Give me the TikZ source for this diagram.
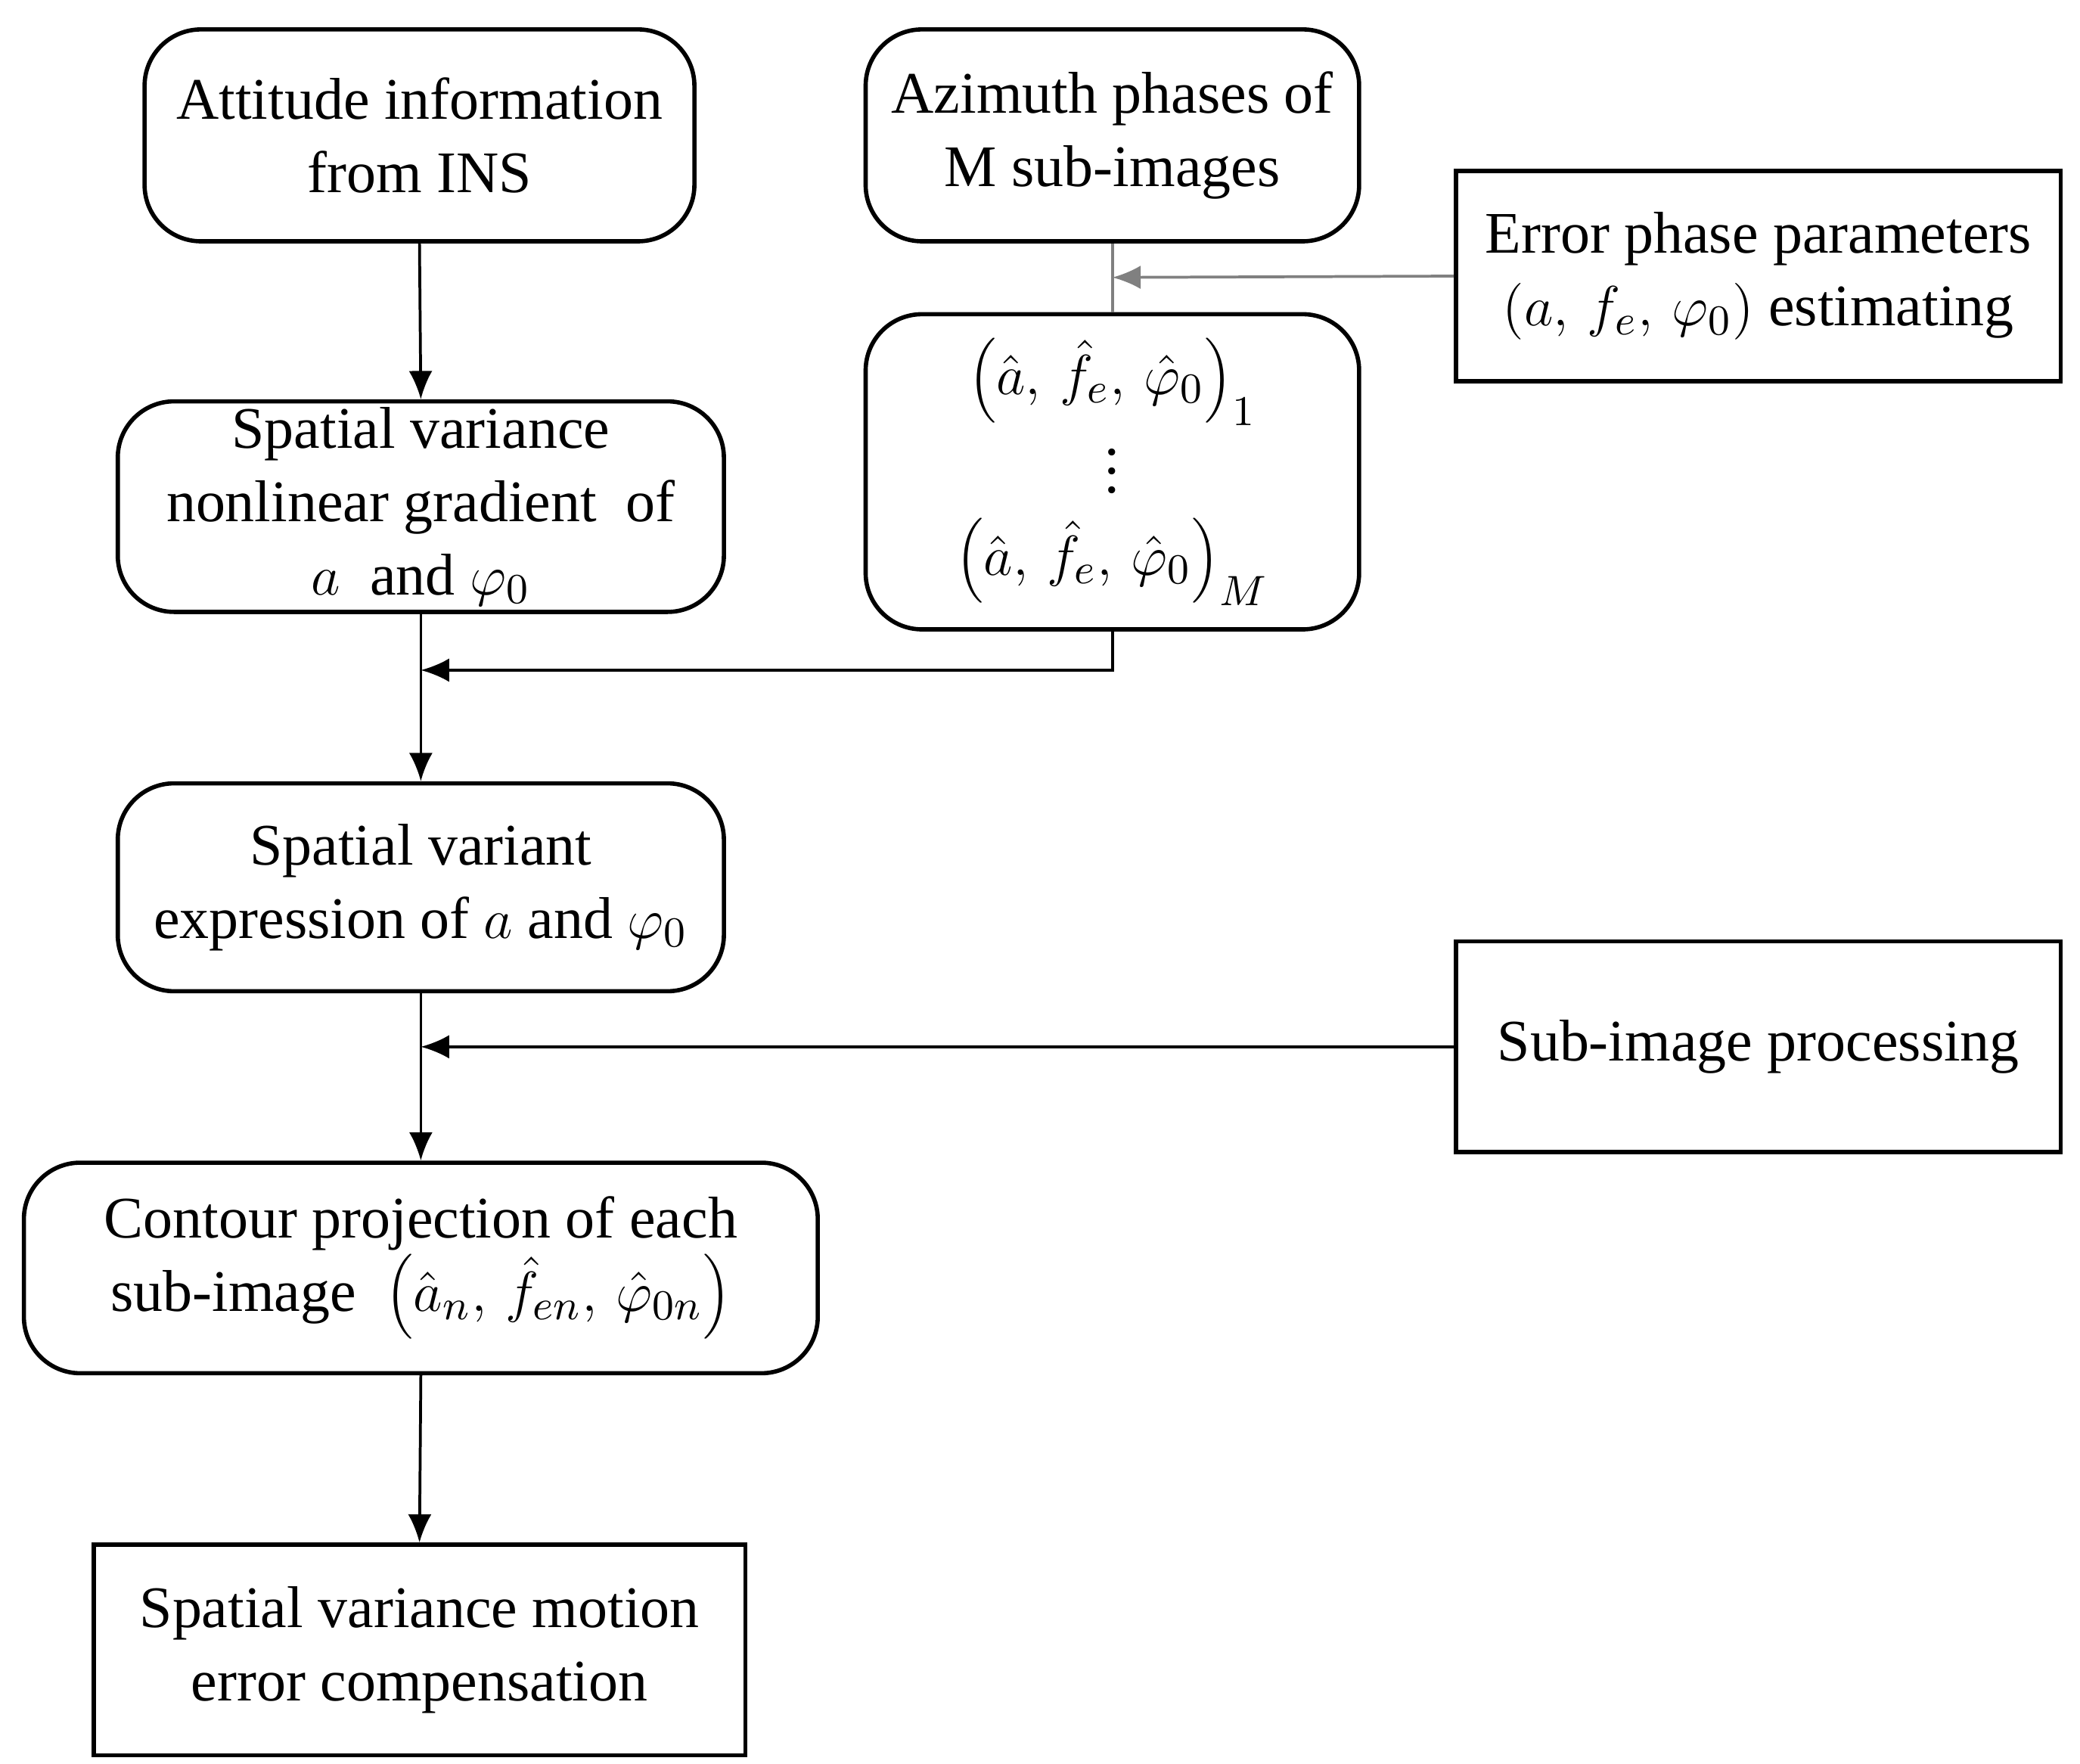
\documentclass[tikz,border=0pt]{standalone}
\usepackage{fontspec}
\setmainfont{Liberation Serif}
\usetikzlibrary{arrows.meta}
\begin{document}
\begin{tikzpicture}[x=0.01cm,y=-0.01cm,
  every node/.style={font=\fontsize{12.5}{15.5}\selectfont, align=center, inner sep=0pt},
  rbox/.style={draw, line width=0.9pt, rounded corners=0.42cm},
  sbox/.style={draw, line width=0.9pt},
  ar/.style={line width=0.6pt, -{Latex[length=6pt,width=5pt]}},
  ln/.style={line width=0.6pt}]
\useasboundingbox (0,0) rectangle (1552,1316);
\node[rbox, minimum width=4.10cm, minimum height=1.58cm] (a) at (313,101) {Attitude information\\from INS};
\node[rbox, minimum width=3.68cm, minimum height=1.58cm] (b) at (830,101) {Azimuth phases of\\M sub-images};
\node[sbox, minimum width=4.51cm, minimum height=1.57cm] (c) at (1312,206) {Error phase parameters\\$(a,\,f_e,\,\varphi_0)$ estimating};
\node[rbox, minimum width=4.52cm, minimum height=1.57cm] (d) at (314,378) {Spatial variance\\nonlinear gradient\ \ of\\$a$\ \ and $\varphi_0$};
\node[rbox, minimum width=3.68cm, minimum height=2.35cm] (e) at (830,352) {$\left(\hat a,\,\hat f_e,\,\hat\varphi_0\right)_1$\\[-2pt]$\vdots$\\[2pt]$\left(\hat a,\,\hat f_e,\,\hat\varphi_0\right)_M$};
\node[rbox, minimum width=4.52cm, minimum height=1.55cm] (f) at (314,662) {Spatial variant\\expression of $a$ and $\varphi_0$};
\node[sbox, minimum width=4.51cm, minimum height=1.57cm] (g) at (1312,781) {Sub-image processing};
\node[rbox, minimum width=5.92cm, minimum height=1.57cm] (h) at (314,946) {Contour projection of each\\sub-image\ \ $\left(\hat a_n,\,\hat f_{en},\,\hat\varphi_{0n}\right)$};
\node[sbox, minimum width=4.86cm, minimum height=1.57cm] (i) at (313,1231) {Spatial variance motion\\error compensation};
\draw[ar] (a.south) -- (d.north);
\draw[ln, gray] (b.south) -- (e.north);
\coordinate (j1) at (830,207);
\draw[ar, gray] (c.west) -- (j1);
\coordinate (j2) at (830,500);
\coordinate (j3) at (314,500);
\draw[ar] (e.south) -- (j2) -- (j3);
\draw[ar] (d.south) -- (f.north);
\coordinate (j4) at (314,781);
\draw[ar] (g.west) -- (j4);
\draw[ar] (f.south) -- (h.north);
\draw[ar] (h.south) -- (i.north);
\end{tikzpicture}
\end{document}
